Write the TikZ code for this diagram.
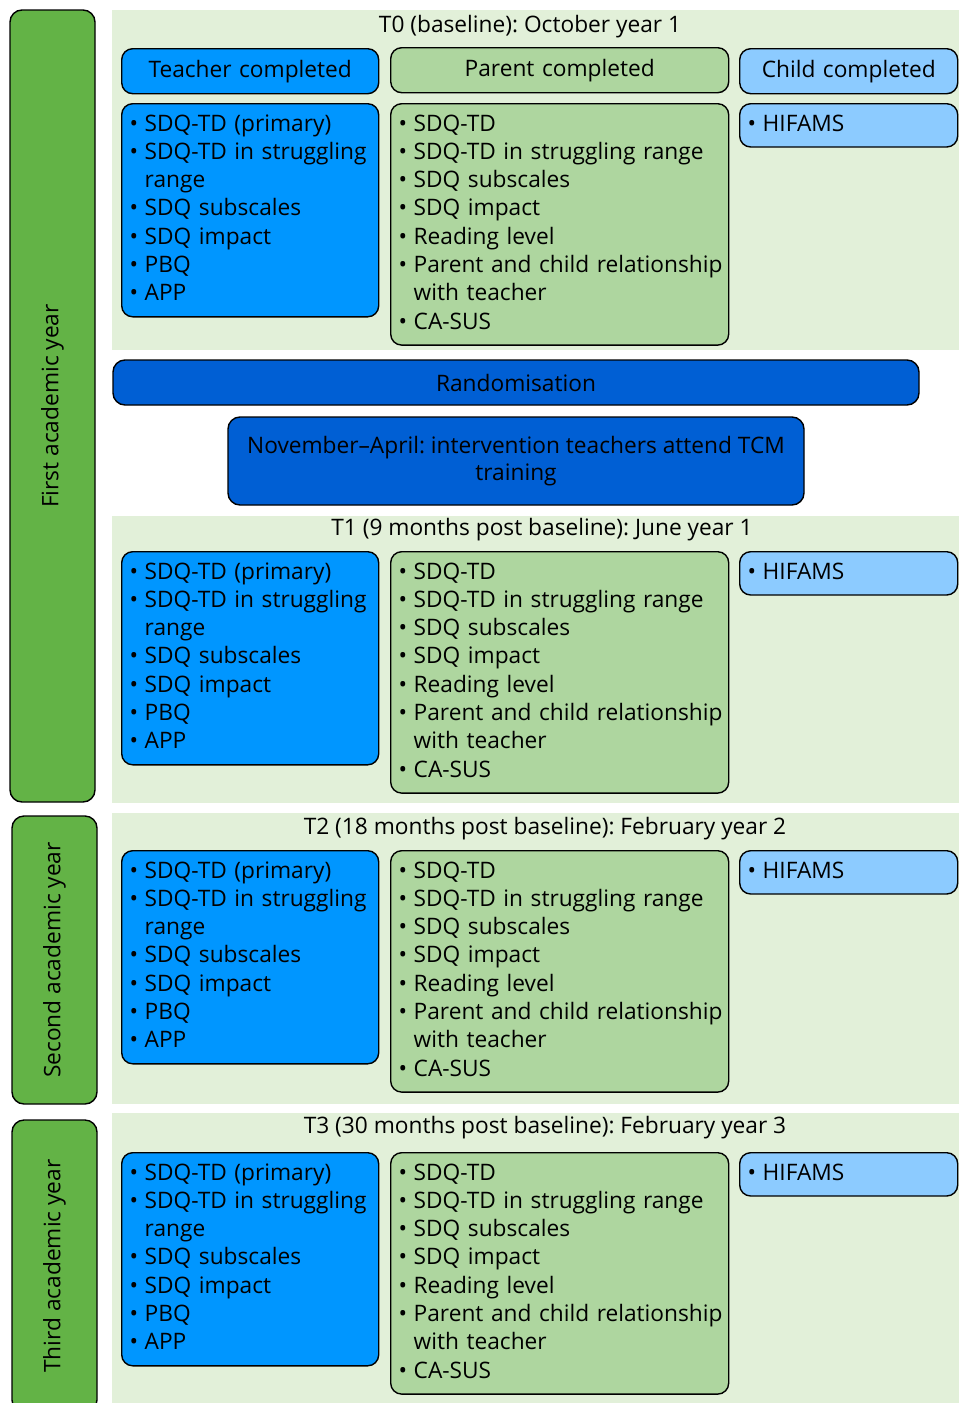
\documentclass[tikz,border=0pt]{standalone}
\usepackage{fontspec}
\setmainfont{Open Sans}
\frenchspacing

\definecolor{teachblue}{HTML}{0096FF}
\definecolor{parentgreen}{HTML}{AED69F}
\definecolor{childblue}{HTML}{8CCBFF}
\definecolor{panelgreen}{HTML}{E2F0D9}
\definecolor{yeargreen}{HTML}{63B346}
\definecolor{darkblue}{HTML}{005FD4}

% one bullet line, wrapped lines hang under the text
\newcommand{\itm}[1]{\hangindent=15pt\hangafter=1\noindent
  \strut\makebox[15pt][l]{\textbullet}#1\strut\par}
\newcommand{\teacheritems}{\itm{\mbox{SDQ-TD (primary)}}\itm{\mbox{SDQ-TD in struggling}\newline range}%
  \itm{SDQ subscales}\itm{SDQ impact}\itm{PBQ}\itm{APP}}
\newcommand{\parentitems}{\itm{SDQ-TD}\itm{\mbox{SDQ-TD in struggling range}}\itm{SDQ subscales}%
  \itm{SDQ impact}\itm{Reading level}\itm{\mbox{Parent and child relationship}\newline with teacher}%
  \itm{CA-SUS}}

\tikzset{
  txt/.style={font=\fontsize{22.7}{28.3}\selectfont, inner sep=0pt},
  box/.style={txt, draw, line width=1.4pt, rounded corners=11pt,
              inner xsep=8pt, inner ysep=7.5pt, anchor=north west},
  teachbox/.style={box, fill=teachblue, text width=241pt, align=left},
  parentbox/.style={box, fill=parentgreen, text width=322pt, align=left},
  childbox/.style={box, fill=childblue, text width=202pt, align=left},
  headbox/.style={box, minimum height=45pt, align=center},
  yearbar/.style={txt, draw, line width=1.4pt, rounded corners=12pt, fill=yeargreen,
                  rotate=90, minimum height=85pt},
  stagebox/.style={txt, draw, line width=1.4pt, rounded corners=12pt, fill=darkblue,
                   align=center},
}

\begin{document}
\begin{tikzpicture}[x=1pt, y=-1pt]
  \useasboundingbox (0,0) rectangle (959,1403);

  % panels
  \fill[panelgreen] (112,10) rectangle (959,350);
  \fill[panelgreen] (112,516) rectangle (959,803);
  \fill[panelgreen] (112,813) rectangle (959,1104);
  \fill[panelgreen] (112,1113) rectangle (959,1403);

  % academic years
  \node[yearbar, minimum width=792pt] (year1) at (52.5,406) {First academic year};
  \node[yearbar, minimum width=288pt] (year2) at (54.5,960) {Second academic year};
  \node[yearbar, minimum width=292pt] (year3) at (54.5,1266) {Third academic year};

  % T0
  \node[txt] (t0) at (530,27) {\strut T0 (baseline): October year 1};
  \node[headbox, fill=teachblue, text width=241pt] (t0-teachhead) at (121,48) {Teacher completed};
  \node[headbox, fill=parentgreen, text width=322pt] (t0-parenthead) at (390,47) {Parent completed};
  \node[headbox, fill=childblue, text width=202pt] (t0-childhead) at (739,48) {Child completed};
  \node[teachbox] (t0-teach) at (121,103) {\teacheritems};
  \node[parentbox] (t0-parent) at (390,103) {\parentitems};
  \node[childbox] (t0-child) at (739,103) {\itm{HIFAMS}};

  \node[stagebox, minimum width=806pt, minimum height=45pt] (random) at (516,382.5) {Randomisation};
  \node[stagebox, minimum width=576pt, minimum height=88pt,
        font=\fontsize{22.7}{27}\selectfont] (tcm) at (516,461)
        {November–April: intervention teachers attend TCM\\training};

  % T1
  \node[txt] (t1) at (542,530) {\strut T1 (9 months post baseline): June year 1};
  \node[teachbox] (t1-teach) at (121,551) {\teacheritems};
  \node[parentbox] (t1-parent) at (390,551) {\parentitems};
  \node[childbox] (t1-child) at (739,551) {\itm{HIFAMS}};

  % T2
  \node[txt] (t2) at (545,829) {\strut T2 (18 months post baseline): February year 2};
  \node[teachbox] (t2-teach) at (121,850) {\teacheritems};
  \node[parentbox] (t2-parent) at (390,850) {\parentitems};
  \node[childbox] (t2-child) at (739,850) {\itm{HIFAMS}};

  % T3
  \node[txt] (t3) at (545,1128) {\strut T3 (30 months post baseline): February year 3};
  \node[teachbox] (t3-teach) at (121,1152) {\teacheritems};
  \node[parentbox] (t3-parent) at (390,1152) {\parentitems};
  \node[childbox] (t3-child) at (739,1152) {\itm{HIFAMS}};
\end{tikzpicture}
\end{document}
